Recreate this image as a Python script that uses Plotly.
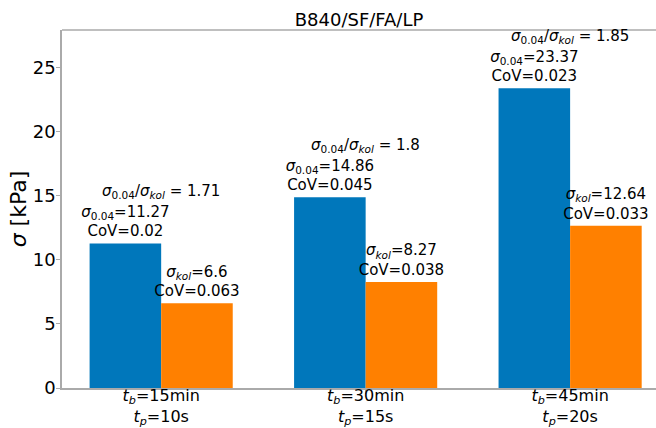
import plotly.graph_objects as go

categories = [
    "<i>t</i><sub><i>b</i></sub>=15min<br><i>t</i><sub><i>p</i></sub>=10s",
    "<i>t</i><sub><i>b</i></sub>=30min<br><i>t</i><sub><i>p</i></sub>=15s",
    "<i>t</i><sub><i>b</i></sub>=45min<br><i>t</i><sub><i>p</i></sub>=20s",
]
sigma_004 = [11.27, 14.86, 23.37]
cov_004 = ["0.02", "0.045", "0.023"]
sigma_kol = [6.6, 8.27, 12.64]
cov_kol = ["0.063", "0.038", "0.033"]
ratio = ["1.71", "1.8", "1.85"]

FONT = "DejaVu Sans"
BLUE = "#0077BB"
ORANGE = "#FF8000"
SPINE = "#aaaaaa"

blue_text = [f"<i>σ</i><sub>0.04</sub>={v}<br>CoV={c}" for v, c in zip(sigma_004, cov_004)]
orange_text = [f"<i>σ</i><sub><i>kol</i></sub>={v}<br>CoV={c}" for v, c in zip(sigma_kol, cov_kol)]

fig = go.Figure()
fig.add_trace(go.Bar(
    x=categories, y=sigma_004, marker=dict(color=BLUE, line=dict(width=0)),
    text=blue_text, textposition="outside", constraintext="none", cliponaxis=False,
    textfont=dict(family=FONT, size=15, color="black"), hoverinfo="skip",
))
fig.add_trace(go.Bar(
    x=categories, y=sigma_kol, marker=dict(color=ORANGE, line=dict(width=0)),
    text=orange_text, textposition="outside", constraintext="none", cliponaxis=False,
    textfont=dict(family=FONT, size=15, color="black"), hoverinfo="skip",
))

for cat, s, r in zip(categories, sigma_004, ratio):
    fig.add_annotation(
        x=cat, y=s, xref="x", yref="y", yanchor="bottom", yshift=40,
        text=f"<i>σ</i><sub>0.04</sub>/<i>σ</i><sub><i>kol</i></sub> = {r}",
        showarrow=False, font=dict(family=FONT, size=15, color="black"),
    )

fig.add_shape(type="line", xref="paper", yref="paper", x0=0, x1=1, y0=1, y1=1,
              line=dict(color=SPINE, width=1.5))

fig.update_layout(
    width=656, height=428,
    margin=dict(l=62, r=0, t=30, b=40),
    paper_bgcolor="white", plot_bgcolor="white",
    barmode="group", bargap=0.3, bargroupgap=0,
    showlegend=False,
    font=dict(family=FONT, color="black"),
    title=dict(text="B840/SF/FA/LP", x=0.5, xanchor="center", xref="paper",
               y=1 - 20 / 428, yref="container", yanchor="middle",
               font=dict(family=FONT, size=18, color="black")),
    xaxis=dict(
        range=[-0.485, 2.42], showline=True, linecolor=SPINE, linewidth=1.5,
        ticks="outside", ticklen=4, tickcolor=SPINE, showgrid=False,
        tickfont=dict(family=FONT, size=16, color="black"), zeroline=False,
        automargin=False, ticklabelstandoff=-12,
    ),
    yaxis=dict(
        range=[0, 27.9], showline=True, linecolor=SPINE, linewidth=1.5,
        ticks="outside", ticklen=4, tickcolor=SPINE, showgrid=False,
        tickvals=[0, 5, 10, 15, 20, 25],
        tickfont=dict(family=FONT, size=18, color="black"), zeroline=False,
        automargin=False, ticklabelstandoff=-3,
        title=dict(text="<i>σ</i> [kPa]", font=dict(family=FONT, size=22, color="black"), standoff=0),
    ),
)

fig.write_html(
    "out.html",
    config={"displayModeBar": False},
    post_script="document.body.style.margin='0';document.body.style.overflow='hidden';",
)
